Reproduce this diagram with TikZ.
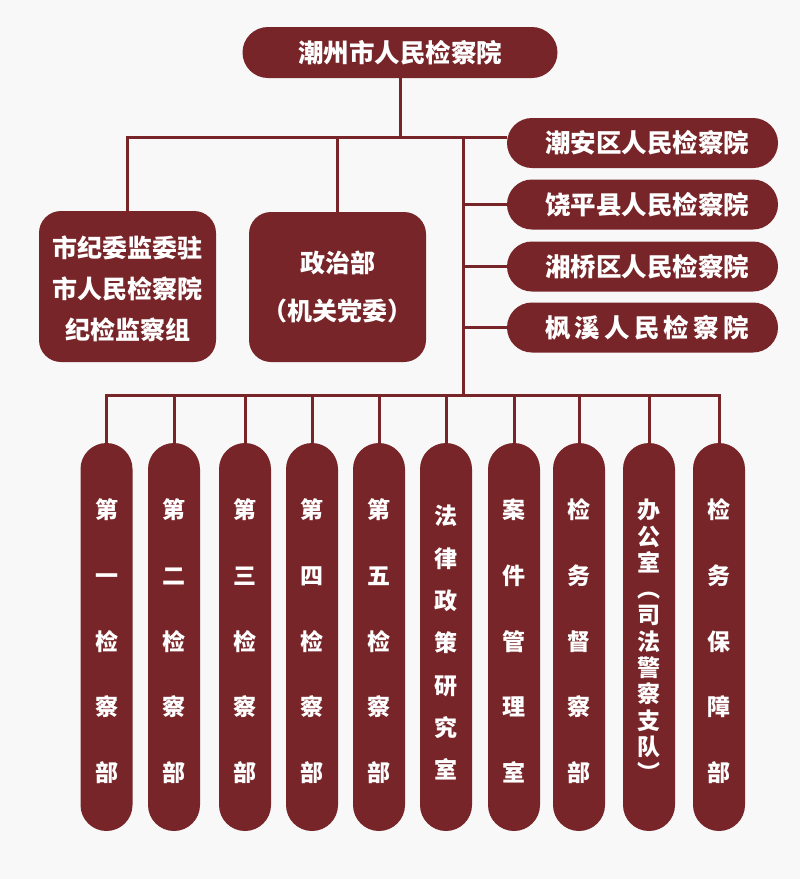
\documentclass[tikz,border=0pt]{standalone}
\usepackage{fontspec}
\newfontfamily\cjk{Noto Sans CJK SC}
\definecolor{jcred}{HTML}{772528}
\definecolor{bggray}{HTML}{F8F8F8}

\begin{document}
\begin{tikzpicture}[x=1pt, y=-1pt,
  box/.style={fill=jcred, text=white, inner sep=0pt, align=center,
    font=\cjk\bfseries\fontsize{25}{41}\selectfont},
  hbox/.style={box, minimum width=271, minimum height=50, rounded corners=25,
    font=\cjk\bfseries\fontsize{25.5}{30}\selectfont, execute at begin node=\kern9pt},
  vbox/.style={box, minimum width=52, minimum height=388, rounded corners=26,
    text height=289.4, text depth=0,
    font=\cjk\bfseries\fontsize{23}{65.8}\selectfont},
  link/.style={draw=jcred, line width=3pt}]

\fill [bggray] (0,0) rectangle (800,879);
\useasboundingbox (0,0) rectangle (800,879);

\node [box, minimum width=315, minimum height=51, rounded corners=25.5, font=\cjk\bfseries\fontsize{25.5}{30}\selectfont] (top) at (400, 52.5) {潮州市人民检察院};

\node [box, minimum width=177, minimum height=151, rounded corners=22, text height=106, text depth=0] (jiwei) at (127.5, 286.5) {市纪委监委驻\\市人民检察院\\纪检监察组};
\node [box, minimum width=177, minimum height=150, rounded corners=22, font=\cjk\bfseries\fontsize{25}{48}\selectfont] (zhengzhi) at (337.5, 287) {政治部\\（机关党委）};

\node [hbox] (chaoan) at (642.5, 143) {潮安区人民检察院};
\node [hbox] (raoping) at (642.5, 204.5) {饶平县人民检察院};
\node [hbox] (xiangqiao) at (642.5, 266.5) {湘桥区人民检察院};
\node [hbox] (fengxi) at (642.5, 327.5) {枫\kern4.25pt 溪\kern4.25pt 人\kern4.25pt 民\kern4.25pt 检\kern4.25pt 察\kern4.25pt 院};

% upper level
\coordinate (hub) at (400, 137);
\coordinate (spine) at (463, 137);
\coordinate (bus) at (463, 395);

\draw [link] (top) -- (hub);
\draw [link] (jiwei.north) |- (hub) -- (hub -| chaoan.west);
\draw [link] (zhengzhi.north) -- (zhengzhi.north |- hub);
\draw [link] (spine) -- (bus);
\draw [link] (spine |- raoping.west) -- (raoping.west);
\draw [link] (spine |- xiangqiao.west) -- (xiangqiao.west);
\draw [link] (spine |- fengxi.west) -- (fengxi.west);

% departments
\node [vbox] (d1) at (106.5, 637) {第\\一\\检\\察\\部};
\node [vbox] (d2) at (174, 637) {第\\二\\检\\察\\部};
\node [vbox] (d3) at (245, 637) {第\\三\\检\\察\\部};
\node [vbox] (d4) at (312, 637) {第\\四\\检\\察\\部};
\node [vbox] (d5) at (379, 637) {第\\五\\检\\察\\部};
\node [vbox, text height=283.4, font=\cjk\bfseries\fontsize{23}{42.3}\selectfont] (d6) at (446, 637) {法\\律\\政\\策\\研\\究\\室};
\node [vbox] (d7) at (514, 637) {案\\件\\管\\理\\室};
\node [vbox] (d8) at (579, 637) {检\\务\\督\\察\\部};
\node [vbox, font=\cjk\bfseries\fontsize{23}{26.3}\selectfont] (d9) at (649, 637) {办\\公\\室\\︵\\司\\法\\警\\察\\支\\队\\︶};
\node [vbox] (d10) at (719, 637) {检\\务\\保\\障\\部};

\draw [link] (d1.north) |- (bus) -| (d10.north);
\draw [link] (d2.north) -- (d2.north |- bus);
\draw [link] (d3.north) -- (d3.north |- bus);
\draw [link] (d4.north) -- (d4.north |- bus);
\draw [link] (d5.north) -- (d5.north |- bus);
\draw [link] (d6.north) -- (d6.north |- bus);
\draw [link] (d7.north) -- (d7.north |- bus);
\draw [link] (d8.north) -- (d8.north |- bus);
\draw [link] (d9.north) -- (d9.north |- bus);

\end{tikzpicture}
\end{document}
